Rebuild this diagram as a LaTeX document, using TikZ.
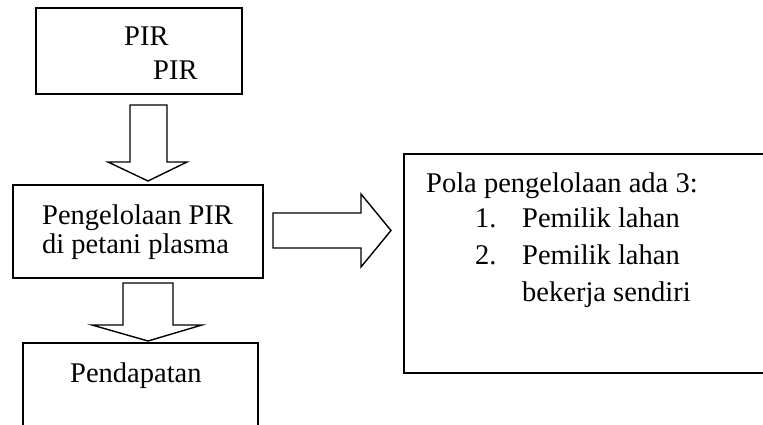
\documentclass[tikz,border=0pt]{standalone}
\usepackage{fontspec}
\setmainfont{Liberation Serif}
\begin{document}
\begin{tikzpicture}[x=1pt,y=-1pt,
  box/.style={draw, line width=1.6pt, inner sep=0pt},
  blockarrow/.style={draw, line width=1.4pt, fill=white, line join=miter},
  txt/.style={anchor=base west, inner sep=0pt, font=\fontsize{28.5}{33}\selectfont}]
\useasboundingbox (0,0) rectangle (763,425);
\clip (0,0) rectangle (763,425);
% boxes
\node[box, minimum width=206pt, minimum height=86pt] (top) at (139,51) {};
\node[box, minimum width=250pt, minimum height=93pt] (mid) at (138,231.5) {};
\node[box, minimum width=235pt, minimum height=107pt] (bot) at (140.5,396.5) {};
\node[box, minimum width=386pt, minimum height=219pt] (right) at (597,263.5) {};
% texts
\node[txt] (t1) at (124,46) {PIR};
\node[txt] (t2) at (153,80) {PIR};
\node[txt] (m1) at (42,224) {Pengelolaan PIR};
\node[txt] (m2) at (42,253) {di petani plasma};
\node[txt] (b1) at (70,382) {Pendapatan};
\node[txt] (r0) at (426,192) {Pola pengelolaan ada 3:};
\node[txt] (r1n) at (475,227) {1.};
\node[txt] (r1) at (522,227) {Pemilik lahan};
\node[txt] (r2n) at (475,264) {2.};
\node[txt] (r2) at (522,264) {Pemilik lahan};
\node[txt] (r3) at (522,301) {bekerja sendiri};
% block arrows
\draw[blockarrow] (130,105) -- (167,105) -- (167,162) -- (187,162) -- (148,181)
  -- (108,162) -- (130,162) -- cycle;
\draw[blockarrow] (273,213) -- (361,213) -- (361,194) -- (391,230.5) -- (361,267)
  -- (361,248) -- (273,248) -- cycle;
\draw[blockarrow] (123,283) -- (173,283) -- (173,325) -- (202,325) -- (148,341)
  -- (92,325) -- (123,325) -- cycle;
\end{tikzpicture}
\end{document}
